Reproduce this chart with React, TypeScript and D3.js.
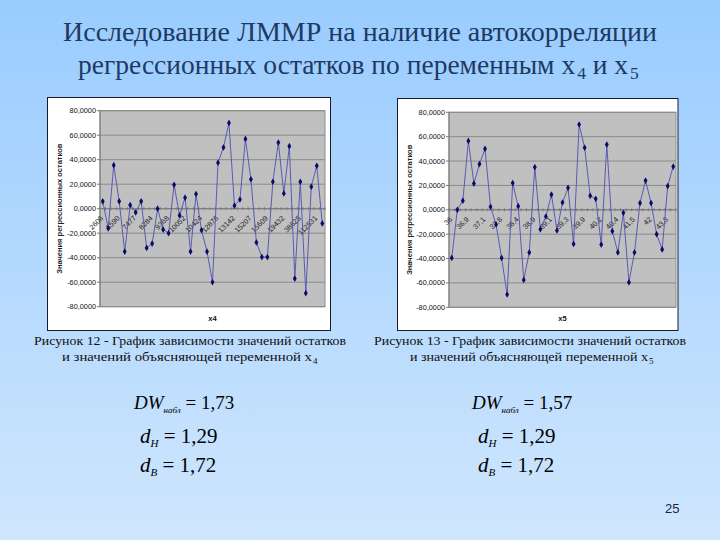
import React from 'react';
import * as d3 from 'd3';

const titleLine1 = 'Исследование ЛММР на наличие автокорреляции';
const titleLine2Parts = ['регрессионных остатков по переменным x', '4', ' и x', '5'];

const residualsX4 = [6, -16, 35.5, 6, -35, 3, -3, 6, -32, -28.5, 0, -17, -20, 19.5, -5.5, 9, -35, 12, -17.5, -35, -60,
  37.5, 50, 70, 2.5, 7.5, 57, 24, -27.5, -39.5, -39.5, 22, 54, 12.5, 51, -57, 22, -69, 18, 35, -12];
const residualsX5 = [-39.5, 0, 7.5, 56.5, 21.5, 37.5, 50, 2.5, -12, -39.5, -69.5, 22, 3, -57.5, -35, 35, -16, -5.5, 12.5, -17, 6,
  18, -28, 70, 51, 11.5, 9, -28.5, 53.5, -17.5, -35, -2.5, -59.5, -35, 5.5, 24, 5.5, -20, -32.5, 19.5, 35.5];

const tickLabelsX4 = ['2606', '6590', '7477', '8284', '9368', '10052', '10424', '12876', '13142', '15207', '15609', '19432', '38625', '112531'];
const tickLabelsX5 = ['36', '36,9', '37,1', '37,8', '38,4', '38,9', '39,1', '39,3', '39,9', '40,2', '40,4', '41,5', '42', '43,3'];
const labelStep = 3;
const yTicks = [-80, -60, -40, -20, 0, 20, 40, 60, 80];
const yTitle = 'Значения регрессионных остатков';

const caption1 = ['Рисунок 12 - График зависимости значений остатков', 'и значений объясняющей переменной x', '4'];
const caption2 = ['Рисунок 13 - График зависимости значений остатков', 'и значений объясняющей переменной x', '5'];

const dwObserved = ['1,73', '1,57'];
const dLower = ['1,29', '1,29'];
const dUpper = ['1,72', '1,72'];

const SERIF = "'Liberation Serif', 'Times New Roman', Times, 'Noto Serif', 'DejaVu Serif', serif";
const SANS = "'Liberation Sans', Arial, sans-serif";

const fmt = (v: number) => v.toFixed(4).replace('.', ',');

type Box = { x: number; y: number; w: number; h: number };
type Plot = { left: number; right: number; top: number; bottom: number };

function ResidualChart({ box, plot, values, tickLabels, xTitle, yTitleX }: {
  box: Box; plot: Plot; values: number[]; tickLabels: string[]; xTitle: string; yTitleX: number;
}) {
  const x = d3.scaleBand<number>().domain(d3.range(values.length)).range([plot.left, plot.right]);
  const y = d3.scaleLinear().domain([-80, 80]).range([plot.bottom, plot.top]);
  const cx = (i: number) => (x(i) as number) + x.bandwidth() / 2;
  const line = d3.line<number>().x((_, i) => cx(i)).y((d) => y(d));
  const marker = d3.symbol().type(d3.symbolDiamond).size(13)() as string;
  const y0 = y(0);
  return (
    <g style={{ fontFamily: SANS }}>
      <rect x={box.x} y={box.y} width={box.w} height={box.h} fill="#ffffff" stroke="#1a1a2a" strokeWidth={1} />
      <rect x={plot.left} y={plot.top} width={plot.right - plot.left} height={plot.bottom - plot.top} fill="#c0c0c0" stroke="#8c8c8c" strokeWidth={1} />
      {yTicks.map((t) => (
        <line key={'g' + t} x1={plot.left} x2={plot.right} y1={y(t)} y2={y(t)} stroke="#8a8a8a" strokeWidth={1} />
      ))}
      <line x1={plot.left} x2={plot.left} y1={plot.top} y2={plot.bottom} stroke="#7a7a7a" strokeWidth={1} />
      {yTicks.map((t) => (
        <g key={'yt' + t}>
          <line x1={plot.left - 3} x2={plot.left} y1={y(t)} y2={y(t)} stroke="#7a7a7a" />
          <text x={plot.left - 4} y={y(t) + 2.5} fontSize={7.3} textAnchor="end" fill="#111">{fmt(t)}</text>
        </g>
      ))}
      <line x1={plot.left} x2={plot.right} y1={y0} y2={y0} stroke="#7a7a7a" strokeWidth={1} />
      {d3.range(values.length + 1).map((i) => {
        const xx = plot.left + i * x.step();
        return <line key={'xt' + i} x1={xx} x2={xx} y1={y0 - 1.5} y2={y0 + 1.5} stroke="#7a7a7a" />;
      })}
      {tickLabels.map((lab, k) => {
        const i = k * labelStep;
        return (
          <text key={'xl' + k} transform={`translate(${cx(i) + 1},${y0 + 10}) rotate(-45)`} fontSize={7.3}
            textAnchor="end" fill="#222">{lab}</text>
        );
      })}
      <path d={line(values) as string} fill="none" stroke="#5a5ab4" strokeWidth={1} />
      {values.map((v, i) => (
        <path key={'m' + i} d={marker} transform={`translate(${cx(i)},${y(v)})`} fill="#0a0a6a" />
      ))}
      <text transform={`translate(${yTitleX},${(plot.top + plot.bottom) / 2}) rotate(-90)`} fontSize={7.5}
        fontWeight="bold" textAnchor="middle" fill="#222">{yTitle}</text>
      <text x={(plot.left + plot.right) / 2} y={box.y + box.h - 10} fontSize={7.5} fontWeight="bold"
        textAnchor="middle" fill="#111">{xTitle}</text>
    </g>
  );
}

function Caption({ cx, lines, width, x2, width2 }: { cx: number; lines: string[]; width: number; x2: number; width2: number }) {
  return (
    <g style={{ fontFamily: SERIF }} fill="#111" fontSize={13.5}>
      <text x={cx} y={345} textAnchor="middle" textLength={width} lengthAdjust="spacingAndGlyphs">{lines[0]}</text>
      <text x={x2} y={361}>
        <tspan textLength={width2} lengthAdjust="spacingAndGlyphs">{lines[1]}</tspan>
        <tspan fontSize={9} dx={1} dy={3}>{lines[2]}</tspan>
      </text>
    </g>
  );
}

function Formulas({ x, dw }: { x: number; dw: number }) {
  return (
    <g style={{ fontFamily: SERIF }} fill="#000">
      <text x={x} y={409} fontSize={19}>
        <tspan fontStyle="italic">DW</tspan>
        <tspan fontStyle="italic" fontSize={9} dy={4}>{'набл'}</tspan>
        <tspan dy={-4}>{' = ' + dwObserved[dw]}</tspan>
      </text>
      <text x={x + 6} y={443} fontSize={21}>
        <tspan fontStyle="italic">d</tspan>
        <tspan fontStyle="italic" fontSize={11} dy={4}>{'Н'}</tspan>
        <tspan dy={-4}>{' = ' + dLower[dw]}</tspan>
      </text>
      <text x={x + 6} y={472} fontSize={21}>
        <tspan fontStyle="italic">d</tspan>
        <tspan fontStyle="italic" fontSize={11} dy={4}>{'В'}</tspan>
        <tspan dy={-4}>{' = ' + dUpper[dw]}</tspan>
      </text>
    </g>
  );
}

export default function App() {
  return (
    <svg width={720} height={540} viewBox="0 0 720 540" style={{ position: 'absolute', left: 0, top: 0 }}>
      <defs>
        <linearGradient id="bg" x1="0" y1="0" x2="0" y2="1">
          <stop offset="0" stopColor="#99ccff" />
          <stop offset="1" stopColor="#cfe6fd" />
        </linearGradient>
      </defs>
      <rect x={0} y={0} width={720} height={540} fill="url(#bg)" />
      <g style={{ fontFamily: SERIF }} fill="#1e3a62" fontSize={28}>
        <text x={360} y={41} textAnchor="middle" textLength={594} lengthAdjust="spacingAndGlyphs">{titleLine1}</text>
        <text x={78} y={74} fontSize={27.5}>
          {titleLine2Parts[0]}
          <tspan fontSize={17.5} dx={2} dy={5}>{titleLine2Parts[1]}</tspan>
          <tspan dy={-5}>{titleLine2Parts[2]}</tspan>
          <tspan fontSize={17.5} dx={2} dy={5}>{titleLine2Parts[3]}</tspan>
        </text>
      </g>
      <ResidualChart box={{ x: 47.5, y: 97.5, w: 283, h: 233 }} plot={{ left: 100, right: 325, top: 110.7, bottom: 306.7 }}
        values={residualsX4} tickLabels={tickLabelsX4} xTitle="x4" yTitleX={62} />
      <ResidualChart box={{ x: 397.5, y: 98.5, w: 280.5, h: 232 }} plot={{ left: 449, right: 676, top: 112.3, bottom: 307.3 }}
        values={residualsX5} tickLabels={tickLabelsX5} xTitle="x5" yTitleX={412} />
      <Caption cx={190} lines={caption1} width={312} x2={62} width2={250} />
      <Caption cx={530} lines={caption2} width={312} x2={410} width2={238} />
      <Formulas x={134} dw={0} />
      <Formulas x={472} dw={1} />
      <text x={665} y={513} fontSize={13} style={{ fontFamily: SANS }} fill="#1a2740">25</text>
    </svg>
  );
}
